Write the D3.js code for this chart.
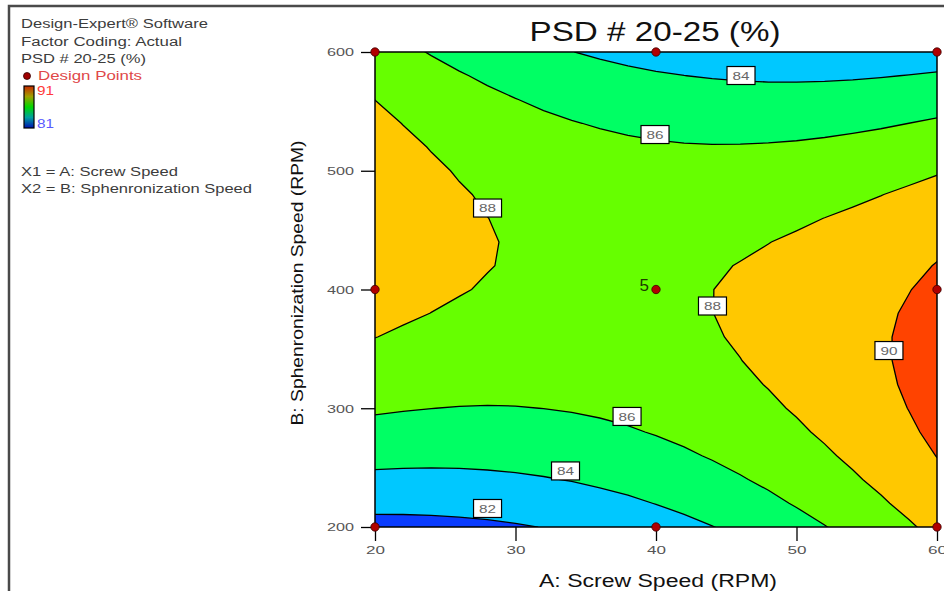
<!DOCTYPE html>
<html>
<head>
<meta charset="utf-8">
<style>
  body { margin: 0; background: #fff; }
  svg { position: absolute; top: 0; left: 0; }
  text { font-family: "Liberation Sans", Arial, sans-serif; }
  .legend { fill: #3c3c3c; font-size: 12.5px; }
  .tick text { fill: #555; font-size: 11px; }
  .iso { fill: none; stroke: #000; stroke-width: 1.3px; }
  .lbl rect { fill: #fff; stroke: #000; stroke-width: 1.2px; }
  .lbl text { fill: #666; font-size: 11.5px; }
</style>
<script src="https://cdnjs.cloudflare.com/ajax/libs/d3/7.8.5/d3.min.js"></script>
</head>
<body>
<svg width="944" height="591"></svg>
<script>
// grid of the response surface
var screwSpeed = [20,22,24,26,28,30,32,34,36,38,40,42,44,46,48,50,52,54,56,58,60];
var sphSpeed = [200,220,240,260,280,300,320,340,360,380,400,420,440,460,480,500,520,540,560,580,600];
var psd = [
  [81.39,81.41,81.47,81.56,81.68,81.85,82.04,82.27,82.54,82.84,83.18,83.55,83.96,84.40,84.88,85.40,85.94,86.53,87.15,87.80,88.49],
  [82.54,82.53,82.56,82.62,82.72,82.85,83.02,83.22,83.46,83.73,84.04,84.39,84.77,85.19,85.64,86.13,86.65,87.21,87.80,88.43,89.10],
  [83.60,83.56,83.56,83.59,83.66,83.76,83.90,84.07,84.29,84.53,84.81,85.13,85.49,85.88,86.30,86.76,87.26,87.80,88.36,88.97,89.61],
  [84.57,84.50,84.46,84.47,84.51,84.58,84.69,84.84,85.02,85.24,85.50,85.79,86.12,86.48,86.88,87.31,87.78,88.29,88.84,89.42,90.03],
  [85.44,85.34,85.28,85.26,85.27,85.31,85.40,85.51,85.67,85.86,86.09,86.35,86.65,86.99,87.36,87.77,88.22,88.70,89.22,89.77,90.36],
  [86.22,86.10,86.01,85.95,85.93,85.95,86.01,86.10,86.23,86.39,86.59,86.83,87.10,87.41,87.76,88.14,88.56,89.01,89.50,90.03,90.60],
  [86.91,86.76,86.64,86.56,86.51,86.50,86.53,86.59,86.69,86.83,87.00,87.21,87.46,87.74,88.06,88.42,88.81,89.24,89.70,90.20,90.74],
  [87.51,87.33,87.18,87.07,87.00,86.96,86.96,87.00,87.07,87.18,87.33,87.51,87.73,87.98,88.27,88.60,88.97,89.37,89.81,90.28,90.79],
  [88.02,87.81,87.63,87.49,87.39,87.33,87.30,87.31,87.36,87.44,87.56,87.71,87.90,88.13,88.40,88.70,89.03,89.41,89.82,90.27,90.75],
  [88.43,88.19,87.99,87.83,87.70,87.61,87.55,87.53,87.55,87.61,87.70,87.83,87.99,88.19,88.43,88.70,89.01,89.36,89.74,90.16,90.62],
  [88.75,88.49,88.26,88.07,87.91,87.80,87.71,87.67,87.66,87.69,87.75,87.85,87.99,88.16,88.37,88.62,88.90,89.22,89.57,89.96,90.39],
  [88.98,88.69,88.43,88.22,88.04,87.89,87.78,87.71,87.67,87.67,87.71,87.78,87.89,88.04,88.22,88.44,88.69,88.98,89.31,89.67,90.07],
  [89.11,88.80,88.52,88.28,88.07,87.90,87.76,87.66,87.60,87.57,87.58,87.63,87.71,87.83,87.98,88.17,88.40,88.66,88.96,89.29,89.66],
  [89.16,88.82,88.51,88.24,88.01,87.81,87.65,87.53,87.44,87.38,87.36,87.38,87.44,87.53,87.65,87.81,88.01,88.24,88.51,88.82,89.16],
  [89.11,88.74,88.41,88.12,87.86,87.64,87.45,87.30,87.18,87.10,87.05,87.05,87.07,87.13,87.23,87.36,87.53,87.73,87.97,88.25,88.56],
  [88.97,88.58,88.22,87.90,87.62,87.37,87.16,86.98,86.84,86.73,86.66,86.62,86.62,86.65,86.72,86.82,86.96,87.14,87.35,87.59,87.87],
  [88.74,88.32,87.94,87.60,87.29,87.02,86.78,86.57,86.40,86.27,86.17,86.10,86.07,86.08,86.12,86.19,86.30,86.45,86.63,86.84,87.09],
  [88.41,87.97,87.57,87.20,86.87,86.57,86.30,86.07,85.88,85.72,85.59,85.50,85.44,85.41,85.43,85.47,85.55,85.67,85.81,86.00,86.22],
  [87.99,87.53,87.11,86.71,86.35,86.03,85.74,85.48,85.26,85.07,84.92,84.80,84.71,84.66,84.64,84.66,84.71,84.79,84.91,85.06,85.25],
  [87.48,87.00,86.55,86.13,85.75,85.40,85.09,84.80,84.56,84.34,84.16,84.01,83.90,83.82,83.77,83.76,83.78,83.83,83.92,84.04,84.19],
  [86.88,86.37,85.90,85.46,85.06,84.68,84.34,84.03,83.76,83.52,83.31,83.13,82.99,82.88,82.81,82.76,82.75,82.77,82.83,82.92,83.04]
];
var levels = [82, 84, 86, 88, 90];

// design points (A, B) and replicate counts
var designA = [20, 40, 60, 20, 40, 60, 20, 40, 60];
var designB = [200, 200, 200, 400, 400, 400, 600, 600, 600];
var designReps = [1, 1, 1, 1, 5, 1, 1, 1, 1];

// contour labels
var labelLevel = [84, 86, 88, 88, 90, 86, 84, 82];
var labelA = [46.05, 39.93, 28.01, 44.02, 56.58, 37.94, 33.56, 28.01];
var labelB = [580.2, 530.5, 468.6, 386.1, 348.6, 293.1, 247.2, 215.6];

var xTicks = [20, 30, 40, 50, 60];
var yTicks = [200, 300, 400, 500, 600];
var legendLines = ["Design-Expert\u00AE Software", "Factor Coding: Actual", "PSD # 20-25 (%)"];
var factorLines = ["X1 = A: Screw Speed", "X2 = B: Sphenronization Speed"];
var rangeHigh = 91, rangeLow = 81;

var bandColors = ["#0a3cff", "#00c8ff", "#00ff64", "#66ff00", "#ffc800", "#ff4300"];

var svg = d3.select("svg");

// frame
svg.append("path").attr("d", "M9,591V6H944")
  .attr("fill", "none").attr("stroke", "#4a4a4a").attr("stroke-width", 2.5);

var x = d3.scaleLinear().domain([20, 60]).range([375, 937]);
var y = d3.scaleLinear().domain([200, 600]).range([527, 52]);

svg.append("clipPath").attr("id", "plotclip").append("rect")
  .attr("x", x(20)).attr("y", y(600))
  .attr("width", x(60) - x(20)).attr("height", y(200) - y(600));

// grid index -> data units -> pixels (d3.contours puts sample k at k + 0.5)
var stepA = screwSpeed[1] - screwSpeed[0], stepB = sphSpeed[1] - sphSpeed[0];
var proj = d3.geoTransform({
  point: function(px, py) {
    this.stream.point(x(screwSpeed[0] + (px - 0.5) * stepA), y(sphSpeed[0] + (py - 0.5) * stepB));
  }
});
var path = d3.geoPath(proj);

var contours = d3.contours()
  .size([screwSpeed.length, sphSpeed.length])
  .thresholds(levels)(psd.flat());

var plot = svg.append("g").attr("clip-path", "url(#plotclip)");
plot.append("rect")
  .attr("x", x(20)).attr("y", y(600))
  .attr("width", x(60) - x(20)).attr("height", y(200) - y(600))
  .attr("fill", bandColors[0]);

plot.selectAll(".band").data(contours).enter().append("path")
  .attr("class", "band")
  .attr("d", path)
  .attr("fill", function(d, i) { return bandColors[i + 1]; });

plot.selectAll(".iso").data(contours).enter().append("path")
  .attr("class", "iso")
  .attr("d", path);

// plot border
svg.append("rect")
  .attr("x", x(20)).attr("y", y(600))
  .attr("width", x(60) - x(20)).attr("height", y(200) - y(600))
  .attr("fill", "none").attr("stroke", "#000").attr("stroke-width", 1.5);

// axes
var xAxis = svg.append("g").attr("transform", "translate(0," + y(200) + ")")
  .call(d3.axisBottom(x).tickValues(xTicks).tickSize(14).tickPadding(5).tickFormat(d3.format("d")));
var yAxis = svg.append("g").attr("transform", "translate(" + x(20) + ",0)")
  .call(d3.axisLeft(y).tickValues(yTicks).tickSize(14).tickPadding(7).tickFormat(d3.format("d")));
[xAxis, yAxis].forEach(function(ax) {
  ax.select(".domain").remove();
  ax.selectAll(".tick line").attr("stroke", "#000").attr("stroke-width", 1.3);
  ax.selectAll(".tick text").attr("font-family", null).attr("font-size", null)
    .attr("lengthAdjust", "spacingAndGlyphs");
});
xAxis.selectAll(".tick text").attr("textLength", 19);
yAxis.selectAll(".tick text").attr("textLength", 27).attr("dy", "0.36em");

// contour labels
var lbl = svg.selectAll(".lbl").data(labelLevel).enter().append("g")
  .attr("class", "lbl")
  .attr("transform", function(d, i) { return "translate(" + x(labelA[i]) + "," + y(labelB[i]) + ")"; });
lbl.append("rect").attr("x", -14).attr("y", -9).attr("width", 28).attr("height", 18);
lbl.append("text").attr("text-anchor", "middle").attr("dy", "0.37em")
  .attr("textLength", 17).attr("lengthAdjust", "spacingAndGlyphs")
  .text(function(d) { return d; });

// design points
svg.selectAll(".dp").data(designA).enter().append("circle")
  .attr("class", "dp")
  .attr("cx", function(d) { return x(d); })
  .attr("cy", function(d, i) { return y(designB[i]); })
  .attr("r", 4.2)
  .attr("fill", "#b00000").attr("stroke", "#3a0000").attr("stroke-width", 0.8);

// replicate count beside repeated points
var repIdx = d3.range(designA.length).filter(function(i) { return designReps[i] > 1; });
svg.selectAll(".rep").data(repIdx).enter().append("text")
  .attr("class", "rep")
  .attr("x", function(i) { return x(designA[i]) - 7; })
  .attr("y", function(i) { return y(designB[i]) + 1; })
  .attr("text-anchor", "end").attr("font-size", 17).attr("fill", "#1d3a00")
  .text(function(i) { return designReps[i]; });

// titles
svg.append("text").attr("x", 655).attr("y", 41).attr("text-anchor", "middle")
  .attr("font-size", 27).attr("fill", "#111")
  .attr("textLength", 251).attr("lengthAdjust", "spacingAndGlyphs")
  .text("PSD # 20-25 (%)");
svg.append("text").attr("x", 658).attr("y", 587).attr("text-anchor", "middle")
  .attr("font-size", 18).attr("fill", "#111")
  .attr("textLength", 238).attr("lengthAdjust", "spacingAndGlyphs")
  .text("A: Screw Speed (RPM)");
svg.append("text").attr("transform", "translate(303,283) rotate(-90)").attr("text-anchor", "middle")
  .attr("font-size", 17).attr("fill", "#111")
  .attr("textLength", 285).attr("lengthAdjust", "spacingAndGlyphs")
  .text("B: Sphenronization Speed (RPM)");

// legend block
var legLens = [187, 161, 125];
svg.selectAll(".leg").data(legendLines).enter().append("text")
  .attr("class", "legend")
  .attr("x", 21).attr("y", function(d, i) { return 28 + i * 17.5; })
  .attr("textLength", function(d, i) { return legLens[i]; })
  .attr("lengthAdjust", "spacingAndGlyphs")
  .text(function(d) { return d; });
svg.append("circle").attr("cx", 27).attr("cy", 76).attr("r", 3.5)
  .attr("fill", "#a00000").attr("stroke", "#300").attr("stroke-width", 0.8);
svg.append("text").attr("x", 38).attr("y", 80).attr("font-size", 12.5).attr("fill", "#e04848")
  .attr("textLength", 104).attr("lengthAdjust", "spacingAndGlyphs").text("Design Points");

var grad = svg.append("defs").append("linearGradient").attr("id", "cbar")
  .attr("x1", 0).attr("y1", 0).attr("x2", 0).attr("y2", 1);
[["0", "#c82800"], ["0.25", "#a0a000"], ["0.5", "#00d800"], ["0.75", "#00a0a0"], ["1", "#0010b0"]]
  .forEach(function(s) { grad.append("stop").attr("offset", s[0]).attr("stop-color", s[1]); });
svg.append("rect").attr("x", 24).attr("y", 86).attr("width", 10).attr("height", 42)
  .attr("fill", "url(#cbar)").attr("stroke", "#000").attr("stroke-width", 1.2);
svg.append("text").attr("x", 37).attr("y", 95).attr("font-size", 12.5).attr("fill", "#ff3a3a")
  .attr("textLength", 17).attr("lengthAdjust", "spacingAndGlyphs").text(rangeHigh);
svg.append("text").attr("x", 37).attr("y", 128).attr("font-size", 12.5).attr("fill", "#5a5aff")
  .attr("textLength", 17).attr("lengthAdjust", "spacingAndGlyphs").text(rangeLow);

var facLens = [157, 231];
svg.selectAll(".fac").data(factorLines).enter().append("text")
  .attr("class", "legend")
  .attr("x", 21).attr("y", function(d, i) { return 176 + i * 17; })
  .attr("textLength", function(d, i) { return facLens[i]; })
  .attr("lengthAdjust", "spacingAndGlyphs")
  .text(function(d) { return d; });
</script>
</body>
</html>
